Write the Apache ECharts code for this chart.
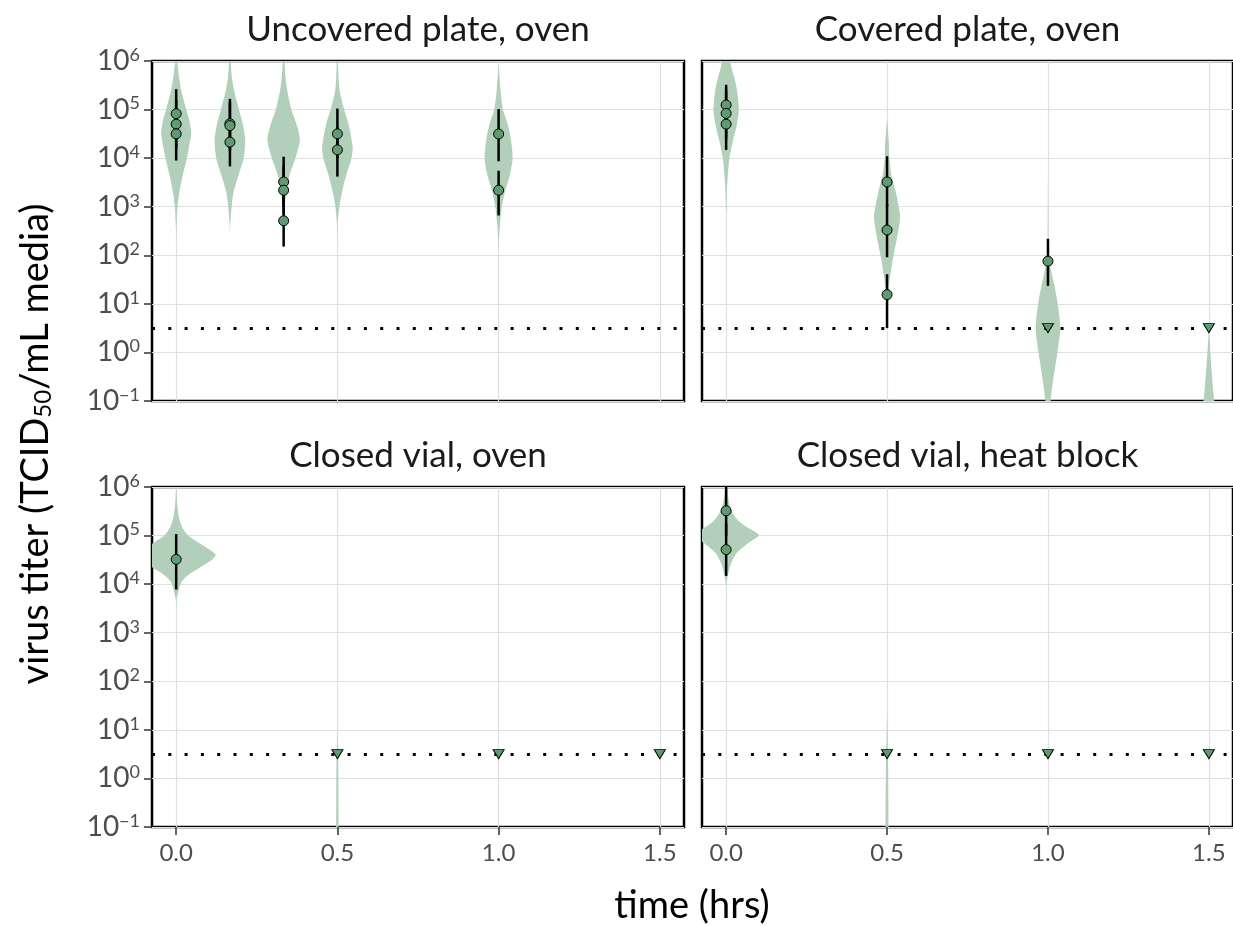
<!DOCTYPE html>
<html><head><meta charset="utf-8">
<script src="https://cdn.jsdelivr.net/npm/echarts@6/dist/echarts.min.js"></script>
<style>html,body{margin:0;padding:0;background:#fff}#c{width:1233px;height:926px}</style>
</head><body><div id="c"></div>
<script>
// ---------------- DATA (titers as log10 TCID50/mL) ----------------
const PANEL_TITLES = ['Uncovered plate, oven', 'Covered plate, oven', 'Closed vial, oven', 'Closed vial, heat block'];
const X_TICKS = [0, 0.5, 1.0, 1.5];
const Y_TICKS = [-1, 0, 1, 2, 3, 4, 5, 6];
const DETECTION_LIMIT = 0.5;

// violin profiles: [log10 titer, density]
const vUP0 = [[6.3,0.3],[6.0,1],[5.92,1.3],[5.65,3],[5.38,5.3],[5.0,10],[4.75,13.5],[4.5,15],[4.25,13],[4.0,10.7],[3.66,6.7],[3.31,3.3],[3.0,1.3],[2.63,0.4],[2.4,0]];
const vUP1 = [[6.3,0.3],[6.0,0.8],[5.65,2],[5.38,4.3],[5.0,9],[4.69,13],[4.38,15.3],[4.0,13.7],[3.66,8.7],[3.31,3.7],[3.0,1.7],[2.63,0.3],[2.4,0]];
const vUP2 = [[6.3,0.3],[6.0,0.8],[5.65,2],[5.38,3.7],[5.0,7.7],[4.69,13],[4.38,16.2],[4.0,11.7],[3.66,6],[3.31,2.7],[3.0,1],[2.63,0.3],[2.0,0]];
const vUP3 = [[6.3,0.2],[6.0,0.5],[5.65,1.2],[5.38,2.3],[5.0,6.7],[4.69,11.3],[4.22,15.3],[4.0,14],[3.66,9],[3.31,4.7],[3.0,2],[2.63,0.3],[2.3,0]];
const vUP4 = [[5.95,0],[5.38,2],[5.0,4.3],[4.69,9.3],[4.35,12.5],[4.0,14],[3.66,11.3],[3.31,6.3],[3.0,3.3],[2.63,1.3],[2.29,0.3],[2.1,0]];
const vCP0 = [[6.5,1],[6.2,3],[5.92,4.7],[5.65,8.3],[5.38,11],[5.0,12.7],[4.69,10.7],[4.35,6.7],[4.0,3.3],[3.66,1.7],[3.31,0.7],[3.0,0.3],[2.8,0]];
const vCP1 = [[4.8,0],[4.35,1.7],[4.0,2.3],[3.66,4.3],[3.31,8.7],[2.83,13],[2.63,12.3],[2.29,9.3],[1.94,6],[1.6,3.3],[1.26,1],[1.1,0]];
const vCP2 = [[3.7,0],[2.5,0.3],[2.04,0.5],[1.7,3],[1.35,6.7],[1.01,9.7],[0.5,12.3],[-0.02,9.3],[-0.36,6.7],[-0.71,4.2],[-0.98,2.7],[-1.3,0.5],[-1.5,0]];
const vCP3 = [[0.45,0],[0.3,0.5],[-0.02,1.5],[-0.36,2.7],[-0.71,4],[-0.98,5.3],[-1.3,6.5],[-1.6,5]];
const vCV0 = [[6.3,0],[5.92,0.3],[5.65,1],[5.38,2.7],[5.17,6],[5.0,12],[4.83,24],[4.61,39.3],[4.48,34.3],[4.35,24.3],[4.21,13.3],[4.07,6],[3.94,3.3],[3.8,1.7],[3.66,0.3],[3.5,0]];
const vCV1 = [[1.0,0],[0.5,0.7],[0,1],[-1,1.2],[-1.2,1.2]];
const vHB0 = [[6.3,0.3],[6.0,1],[5.79,2],[5.51,5.3],[5.31,12],[5.17,21],[5.01,32.7],[4.83,21.3],[4.62,9.7],[4.41,4.7],[4.21,2],[4.0,0.3],[3.6,0]];
const vHB1 = [[1.35,0],[0.8,0.5],[0.3,1],[-1,1.5],[-1.2,1.5]];

// violin times per panel
const VIOLINS_UP = [[0, vUP0], [0.1667, vUP1], [0.3333, vUP2], [0.5, vUP3], [1.0, vUP4]];
const VIOLINS_CP = [[0, vCP0], [0.5, vCP1], [1.0, vCP2], [1.5, vCP3]];
const VIOLINS_CV = [[0, vCV0], [0.5, vCV1]];
const VIOLINS_HB = [[0, vHB0], [0.5, vHB1]];

// observed titers: [time, log10 titer, interval low, interval high]
const OBS_UP = [[0,4.915,4.45,5.42],[0,4.70,4.2,5.2],[0,4.50,3.95,5.0],
  [0.1667,4.71,4.2,5.22],[0.1667,4.67,4.15,5.15],[0.1667,4.33,3.83,4.8],
  [0.3333,3.51,3.0,4.03],[0.3333,3.34,2.85,3.85],[0.3333,2.71,2.18,3.2],
  [0.5,4.50,4.0,5.02],[0.5,4.17,3.62,4.65],
  [1.0,4.497,3.935,5.01],[1.0,3.34,2.82,3.74]];
const OBS_CP = [[0,5.094,4.6,5.51],[0,4.92,4.4,5.4],[0,4.70,4.17,5.2],
  [0.5,3.51,3.0,4.04],[0.5,2.52,1.96,3.05],[0.5,1.19,0.5,1.61],
  [1.0,1.88,1.37,2.34]];
const OBS_CV = [[0,4.51,3.89,5.03]];
const OBS_HB = [[0,5.51,5.0,6.2],[0,4.71,4.17,5.25]];

// below detection limit wells: [time, log10 titer]
const ND_UP = [];
const ND_CP = [[1.0,0.5],[1.5,0.5]];
const ND_CV = [[0.5,0.5],[1.0,0.5],[1.5,0.5]];
const ND_HB = [[0.5,0.5],[1.0,0.5],[1.5,0.5]];

// ---------------- STYLE / LAYOUT ----------------
const FONT = 'Lato';
const VIOLIN_FILL = '#b1cfb9';
const POINT_FILL = '#5e9c6f';
const GRID_LINE = '#e0e0e0';
const TICK_LABEL = '#4d4d4d';
const DENS_TO_X = 1 / 322;
const GRIDS = [
  {left:152, top:61, width:532, height:340},
  {left:702, top:61, width:531, height:340},
  {left:152, top:487, width:532, height:340},
  {left:702, top:487, width:531, height:340}
];
const PANEL_VIOLINS = [VIOLINS_UP, VIOLINS_CP, VIOLINS_CV, VIOLINS_HB];
const PANEL_OBS = [OBS_UP, OBS_CP, OBS_CV, OBS_HB];
const PANEL_ND = [ND_UP, ND_CP, ND_CV, ND_HB];

function expLabel(v) {
  const e = v < 0 ? '\u2212' + Math.abs(v) : String(v);
  return '10{s|' + e + '}';
}

const grid = [], xAxis = [], yAxis = [], series = [], graphic = [];
GRIDS.forEach((g, i) => {
  const isLeft = i % 2 === 0, isBottom = i >= 2;
  grid.push(Object.assign({show:true, borderColor:'#000', borderWidth:2.5, backgroundColor:'#fff'}, g));
  xAxis.push({
    gridIndex:i, type:'value', min:-0.075, max:1.575, position:'bottom',
    axisLine:{show:false, onZero:false},
    axisTick:{show:isBottom, customValues:X_TICKS, length:8, lineStyle:{color:'#333', width:1.5}},
    axisLabel:{show:isBottom, customValues:X_TICKS, margin:14, color:TICK_LABEL, fontFamily:FONT, fontSize:24,
      formatter: v => v.toFixed(1)},
    splitLine:{show:true, lineStyle:{color:GRID_LINE, width:1.2}}
  });
  yAxis.push({
    gridIndex:i, type:'value', min:-1, max:6, interval:1, position:'left',
    axisLine:{show:false, onZero:false},
    axisTick:{show:isLeft, length:8, lineStyle:{color:'#333', width:1.5}},
    axisLabel:{show:isLeft, margin:12, color:TICK_LABEL, fontFamily:FONT, fontSize:28,
      formatter: expLabel,
      rich:{s:{fontSize:18, color:TICK_LABEL, fontFamily:FONT, verticalAlign:'top', padding:[0,0,12,0]}}},
    splitLine:{show:true, lineStyle:{color:GRID_LINE, width:1.2}}
  });
  const vi = PANEL_VIOLINS[i];
  series.push({
    type:'custom', xAxisIndex:i, yAxisIndex:i, z:1, clip:true, silent:true,
    data: vi.map((v, k) => [v[0], k]),
    encode:{x:0, y:-1},
    renderItem: (params, api) => {
      const t = api.value(0);
      const prof = vi[api.value(1)][1];
      const pts = [];
      prof.forEach(([l, d]) => pts.push(api.coord([t + d * DENS_TO_X, l])));
      for (let k = prof.length - 1; k >= 0; k--) pts.push(api.coord([t - prof[k][1] * DENS_TO_X, prof[k][0]]));
      return {type:'polygon', shape:{points:pts, smooth:0.25}, style:{fill:VIOLIN_FILL, stroke:null}};
    }
  });
  const ob = PANEL_OBS[i];
  series.push({
    type:'custom', xAxisIndex:i, yAxisIndex:i, z:3, clip:true, silent:true,
    data: ob.map(o => [o[0], o[2], o[3]]),
    encode:{x:0, y:[1,2]},
    renderItem: (params, api) => {
      const a = api.coord([api.value(0), api.value(1)]);
      const b = api.coord([api.value(0), api.value(2)]);
      return {type:'line', shape:{x1:a[0], y1:a[1], x2:b[0], y2:b[1]}, style:{stroke:'#000', lineWidth:2.5}};
    },
    markLine:{silent:true, symbol:['none','none'], label:{show:false}, animation:false,
      lineStyle:{type:[3,13.3], width:3, color:'#000', cap:'butt'},
      data:[{yAxis:DETECTION_LIMIT}]}
  });
  series.push({
    type:'scatter', xAxisIndex:i, yAxisIndex:i, z:5, silent:true,
    data: ob.map(o => [o[0], o[1]]),
    symbol:'circle', symbolSize:10,
    itemStyle:{color:POINT_FILL, borderColor:'#000', borderWidth:1, opacity:1}
  });
  series.push({
    type:'scatter', xAxisIndex:i, yAxisIndex:i, z:5, silent:true,
    data: PANEL_ND[i],
    symbol:'triangle', symbolRotate:180, symbolSize:[11,9],
    itemStyle:{color:POINT_FILL, borderColor:'#000', borderWidth:1, opacity:1}
  });
  graphic.push({type:'text', x:g.left + g.width / 2, y:30,
    style:{text:PANEL_TITLES[i], fontFamily:FONT, fontSize:35, fill:'#1a1a1a', align:'center', verticalAlign:'middle'}});
});
graphic[2].y = 456; graphic[3].y = 456;
graphic.push({type:'text', x:692, y:906,
  style:{text:'time (hrs)', fontFamily:FONT, fontSize:38, fill:'#000', align:'center', verticalAlign:'middle'}});
graphic.push({type:'text', x:36, y:444, rotation:Math.PI / 2,
  style:{text:'virus titer (TCID{sub|50}/mL media)', fontFamily:FONT, fontSize:38, fill:'#000', align:'center', verticalAlign:'middle',
    rich:{sub:{fontSize:24, fontFamily:FONT, fill:'#000', verticalAlign:'bottom'}}}});

const chart = echarts.init(document.getElementById('c'), null, {renderer:'canvas'});
chart.setOption({animation:false, backgroundColor:'#fff', grid, xAxis, yAxis, series, graphic});
</script></body></html>
